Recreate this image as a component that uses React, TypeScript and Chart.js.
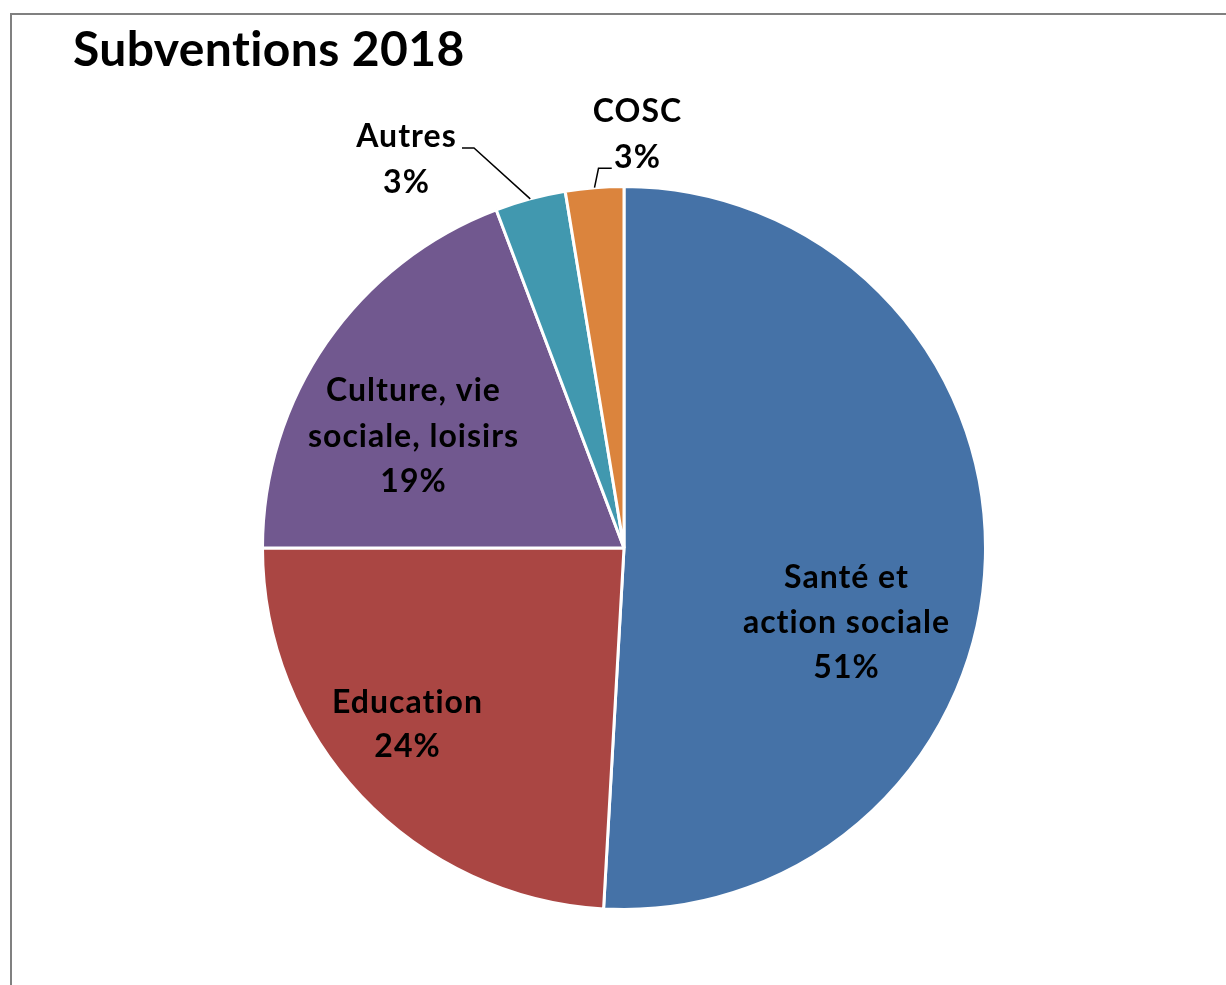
import React, { useEffect, useRef } from "react";
import { Chart, registerables } from "chart.js";

Chart.register(...registerables);

const title = "Subventions 2018";
const categories = ["Santé et action sociale", "Education", "Culture, vie sociale, loisirs", "Autres", "COSC"];
const labelLines = [["Santé et", "action sociale"], ["Education"], ["Culture, vie", "sociale, loisirs"], ["Autres"], ["COSC"]];
const values = [50.9, 24.1, 19.25, 3.15, 2.6];
const colors = ["#4572A7", "#AA4643", "#71588F", "#4198AF", "#DB843D"];

// label placement, in units of the pie radius, relative to the pie centre
const labelPos: any[] = [
  { x: 0.6167, y: 0.1111, step: 45 },
  { x: -0.6028, y: 0.4583, step: 44 },
  { x: -0.5861, y: -0.4083, step: 45.5 },
  { x: -0.6056, y: -1.1139, step: 46, elbow: { x: -0.4167, y: -1.111 }, end: -0.45 },
  { x: 0.0361, y: -1.1833, step: 46, elbow: { x: -0.0708, y: -1.0547 }, end: -0.034 },
];

const FONT = "Lato, 'Open Sans', sans-serif";

const framePlugin = {
  id: "frame",
  beforeDraw(chart: any) {
    const ctx = chart.ctx;
    ctx.save();
    ctx.fillStyle = "#ffffff";
    ctx.fillRect(0, 0, chart.width, chart.height);
    ctx.fillStyle = "#808080";
    ctx.fillRect(10, 13, 2, chart.height);
    ctx.fillRect(10, 13, chart.width, 2);
    ctx.fillStyle = "#000000";
    ctx.font = `bold 48px ${FONT}`;
    ctx.letterSpacing = "0.4px";
    ctx.textAlign = "left";
    ctx.textBaseline = "alphabetic";
    ctx.fillText(title, 73, 66);
    ctx.restore();
  },
};

const labelPlugin = {
  id: "sliceLabels",
  afterDatasetsDraw(chart: any) {
    const ctx = chart.ctx;
    const meta = chart.getDatasetMeta(0);
    const data = chart.data.datasets[0].data as number[];
    const total = data.reduce((a, b) => a + b, 0);
    ctx.save();
    meta.data.forEach((arc: any, i: number) => {
      const p = arc.getProps(["x", "y", "outerRadius", "startAngle", "endAngle"], true);
      const R = 360;
      const pos = labelPos[i];
      const lines = [...labelLines[i], Math.round((data[i] / total) * 100) + "%"];
      ctx.fillStyle = "#000000";
      ctx.font = `bold 32px ${FONT}`;
      ctx.letterSpacing = "1px";
      ctx.textAlign = "center";
      ctx.textBaseline = "alphabetic";
      lines.forEach((t, k) => {
        ctx.fillText(t, p.x + pos.x * R + 0.5, p.y + pos.y * R + k * pos.step);
      });
      if (pos.elbow) {
        const mid = (p.startAngle + p.endAngle) / 2;
        const sx = p.x + Math.cos(mid) * p.outerRadius;
        const sy = p.y + Math.sin(mid) * p.outerRadius;
        const ex = p.x + pos.elbow.x * R;
        const ey = p.y + pos.elbow.y * R;
        ctx.strokeStyle = "#000000";
        ctx.lineWidth = 1.5;
        ctx.beginPath();
        ctx.moveTo(sx, sy);
        ctx.lineTo(ex, ey);
        ctx.lineTo(p.x + pos.end * R, ey);
        ctx.stroke();
      }
    });
    ctx.restore();
  },
};

export default function App() {
  const ref = useRef<HTMLCanvasElement | null>(null);
  useEffect(() => {
    if (!ref.current) return;
    const chart = new Chart(ref.current, {
      type: "pie",
      data: {
        labels: categories,
        datasets: [
          {
            data: values,
            backgroundColor: colors,
            borderColor: "#ffffff",
            borderWidth: 3,
          },
        ],
      },
      options: {
        responsive: false,
        animation: false,
        devicePixelRatio: 1,
        layout: { padding: { left: 261, right: 239, top: 185, bottom: 74 } },
        plugins: {
          legend: { display: false },
          title: { display: false },
          tooltip: { enabled: false },
        },
      },
      plugins: [framePlugin, labelPlugin],
    });
    return () => chart.destroy();
  }, []);
  return (
    <div style={{ position: "fixed", left: 0, top: 0, width: 1226, height: 985, overflow: "hidden", background: "#fff" }}>
      <canvas ref={ref} width={1226} height={985} style={{ display: "block" }} />
    </div>
  );
}
